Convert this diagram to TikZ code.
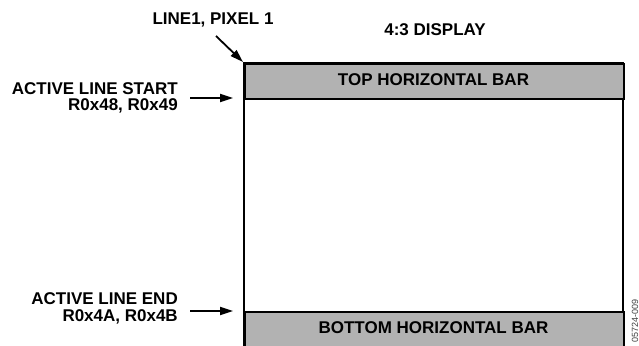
\documentclass[tikz,border=0pt]{standalone}
\usepackage{fontspec}
\setmainfont{Liberation Sans}
\usetikzlibrary{arrows.meta}
\begin{document}
\begin{tikzpicture}[x=1pt,y=-1pt,
  lbl/.style={font=\fontsize{17}{18}\selectfont\bfseries, inner sep=0pt},
  barbox/.style={draw, line width=2.2pt, fill=black!30},
  ptr/.style={-{Triangle[length=13pt,width=8pt]}, line width=1.8pt}]
\useasboundingbox (0,0) rectangle (639,345);
% display frame
\draw[line width=2.2pt] (244,63) rectangle (623,347);
\node[barbox, minimum width=379pt, minimum height=35pt, anchor=north west, inner sep=0pt] (top) at (244,63) {};
\node[barbox, minimum width=379pt, minimum height=36pt, anchor=north west, inner sep=0pt] (bot) at (244,311) {};
\node[lbl] (toplbl) at (433.5,80) {TOP HORIZONTAL BAR};
\node[lbl] (botlbl) at (433.5,328) {BOTTOM HORIZONTAL BAR};
% labels
\node[lbl] (line1) at (213,20) {LINE1, PIXEL 1};
\node[lbl] (disp) at (435,30) {4:3 DISPLAY};
\node[lbl, anchor=east] (als1) at (178,89) {ACTIVE LINE START};
\node[lbl, anchor=east] (als2) at (178,106) {R0x48, R0x49};
\node[lbl, anchor=east] (ale1) at (178,299) {ACTIVE LINE END};
\node[lbl, anchor=east] (ale2) at (178,317) {R0x4A, R0x4B};
% arrows
\coordinate (c1s) at (216,36);
\coordinate (c1e) at (243,62);
\draw[ptr] (c1s) -- (c1e);
\coordinate (c2s) at (190,98);
\coordinate (c2e) at (233,98);
\draw[ptr] (c2s) -- (c2e);
\coordinate (c3s) at (190,311);
\coordinate (c3e) at (233,311);
\draw[ptr] (c3s) -- (c3e);
% figure id
\node[rotate=90, font=\fontsize{9}{10}\selectfont, text=black!75, anchor=base west, inner sep=0pt] (fid) at (638,343) {05724-009};
\end{tikzpicture}
\end{document}
